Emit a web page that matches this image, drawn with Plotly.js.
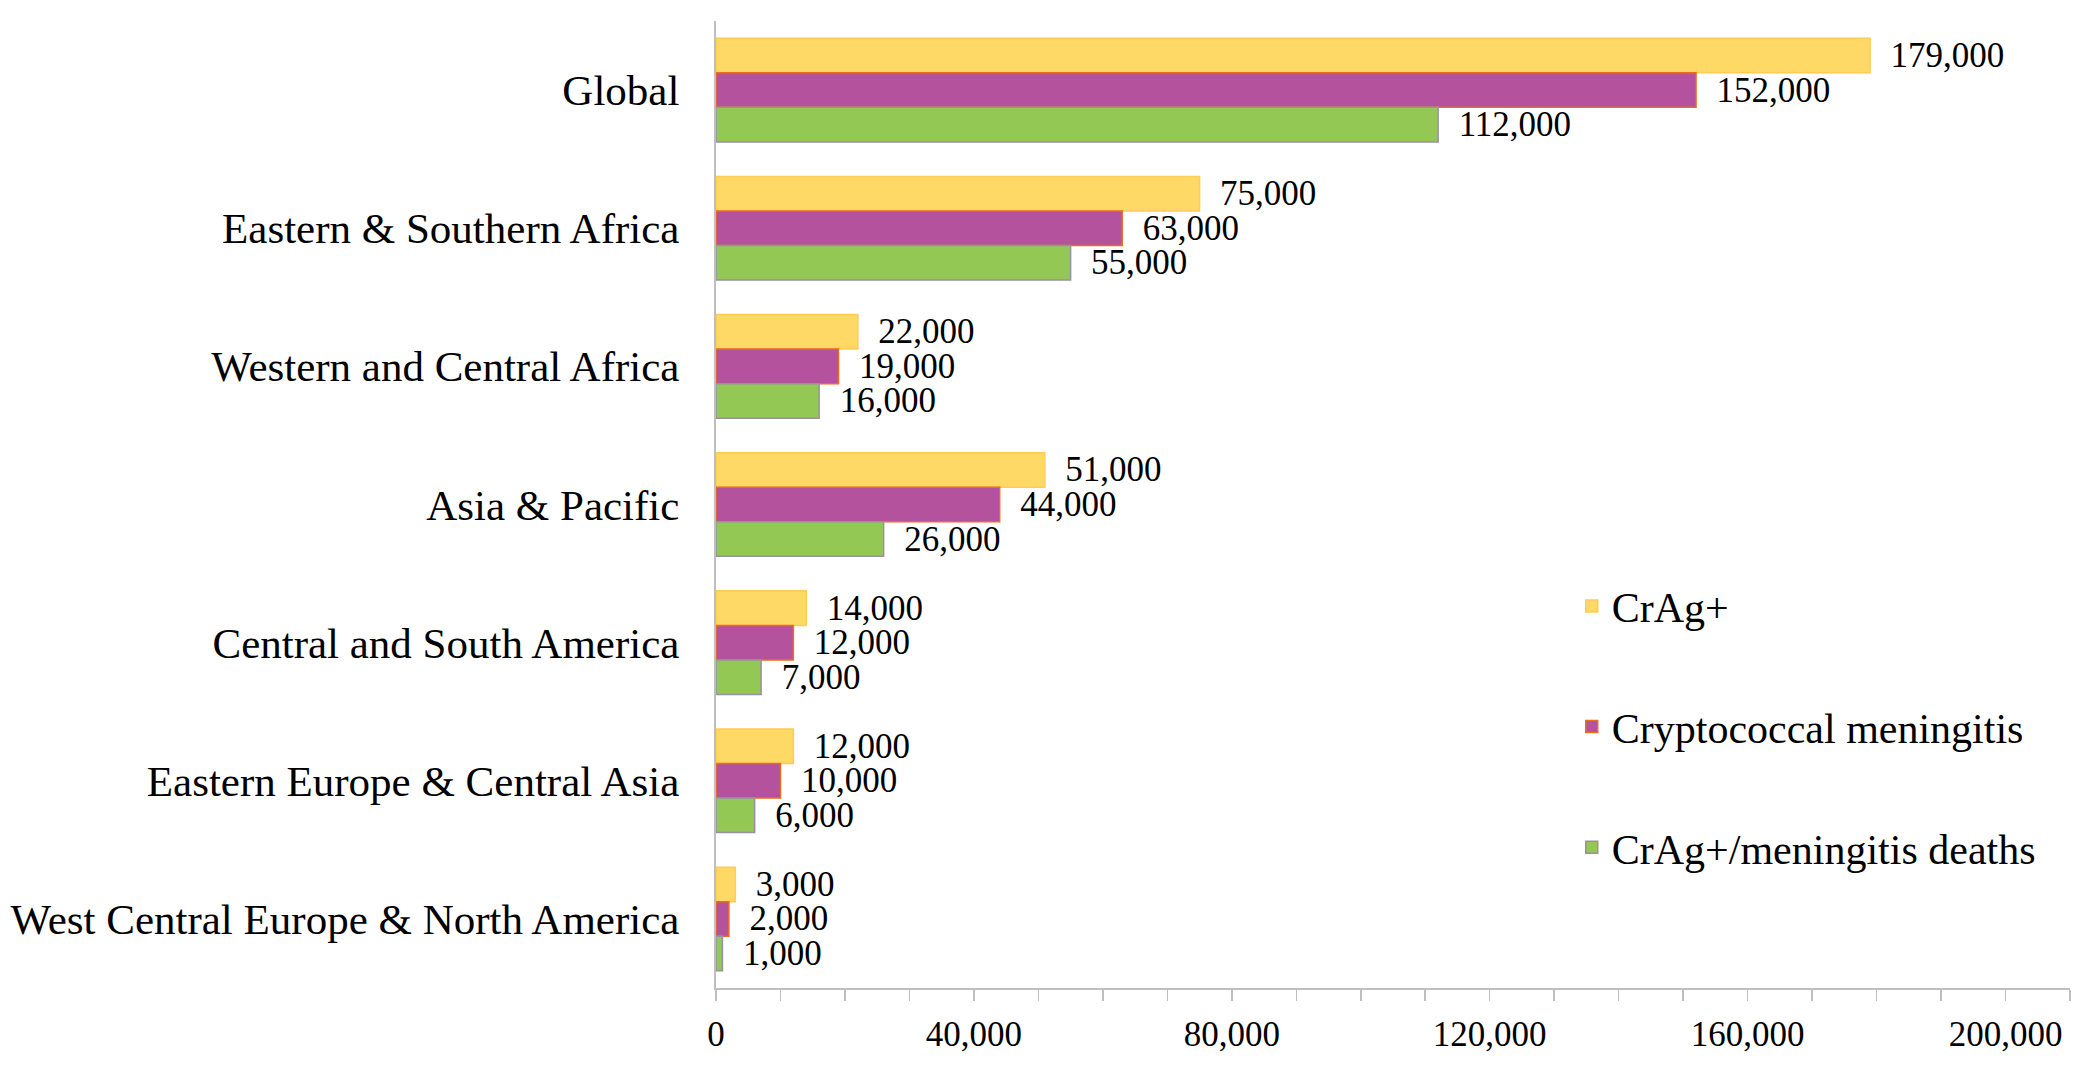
<!DOCTYPE html>
<html>
<head>
<meta charset="utf-8">
<script src="https://cdn.plot.ly/plotly-3.0.1.min.js"></script>
<style>html,body{margin:0;padding:0;background:#fff;}#chart{width:2100px;height:1082px;}</style>
</head>
<body>
<div id="chart"></div>
<script>
const regions = [
  "Global",
  "Eastern & Southern Africa",
  "Western and Central Africa",
  "Asia & Pacific",
  "Central and South America",
  "Eastern Europe & Central Asia",
  "West Central Europe & North America"
];
const seriesNames = ["CrAg+", "Cryptococcal meningitis", "CrAg+/meningitis deaths"];
const cragPositive = [179000, 75000, 22000, 51000, 14000, 12000, 3000];
const cryptoMeningitis = [152000, 63000, 19000, 44000, 12000, 10000, 2000];
const deaths = [112000, 55000, 16000, 26000, 7000, 6000, 1000];
const xTickValues = [0, 40000, 80000, 120000, 160000, 200000];

const FONT = "Liberation Serif, Times New Roman, serif";
const fills = ["#FFD966", "#B4529E", "#92C853"];
const outlines = ["#FFCC55", "#EE6A1E", "#9A90A2"];
const allValues = [cragPositive, cryptoMeningitis, deaths];

const traces = allValues.map((vals, i) => ({
  type: "bar",
  orientation: "h",
  name: seriesNames[i],
  y: regions,
  x: vals,
  marker: {color: fills[i], line: {color: outlines[i], width: 1.5}},
  texttemplate: "\u00a0\u00a0%{x:,}",
  textposition: "outside",
  textfont: {family: FONT, size: 35, color: "#000"},
  constraintext: "none",
  cliponaxis: false,
  legendgroup: "g" + i,
  hoverinfo: "skip"
}));

const layout = {
  width: 2100,
  height: 1082,
  autosize: false,
  paper_bgcolor: "#fff",
  plot_bgcolor: "#fff",
  margin: {l: 716, r: 30, t: 21, b: 94, pad: 0},
  barmode: "group",
  bargap: 0.25,
  bargroupgap: 0,
  font: {family: FONT, color: "#000"},
  xaxis: {
    range: [0, 210000],
    tickvals: xTickValues,
    tickformat: ",",
    tickfont: {family: FONT, size: 35, color: "#000"},
    showgrid: false,
    zeroline: false,
    showline: true,
    linecolor: "#BFBFBF",
    linewidth: 2,
    ticks: "outside",
    ticklen: 11,
    tickcolor: "#BFBFBF",
    tickwidth: 1.5,
    ticklabelstandoff: 3,
    minor: {dtick: 10000, tick0: 0, ticks: "outside", ticklen: 11, tickcolor: "#BFBFBF", tickwidth: 1.5, showgrid: false},
    fixedrange: true
  },
  yaxis: {
    type: "category",
    autorange: "reversed",
    tickfont: {family: FONT, size: 43, color: "#000"},
    showgrid: false,
    zeroline: false,
    showline: true,
    linecolor: "#BFBFBF",
    linewidth: 2,
    ticks: "",
    ticklabelstandoff: 26,
    fixedrange: true
  },
  showlegend: true,
  legend: {
    x: 0.632,
    xanchor: "left",
    y: 0.43,
    yanchor: "top",
    traceorder: "grouped",
    tracegroupgap: 63,
    font: {family: FONT, size: 42, color: "#000"},
    bgcolor: "rgba(0,0,0,0)"
  }
};

Plotly.newPlot("chart", traces, layout, {displayModeBar: false, staticPlot: true});
</script>
</body>
</html>
